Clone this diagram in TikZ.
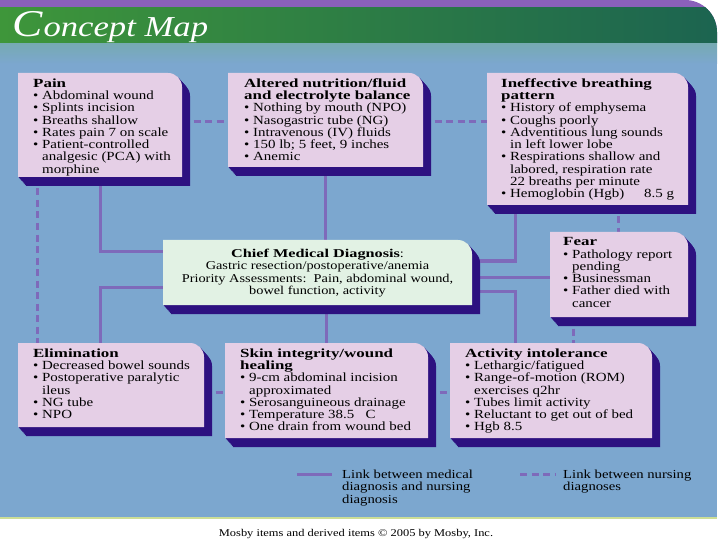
\documentclass[tikz,border=0pt]{standalone}
\usepackage{fontspec}
\setmainfont{Liberation Serif}[FakeStretch=1.2]
\newfontfamily\hdfont{Liberation Serif}[FakeStretch=1.36]
\newfontfamily\ttlfont{Liberation Serif}[FakeStretch=1.2]
\usetikzlibrary{calc}
\pgfdeclarelayer{back}
\pgfdeclarelayer{links}
\pgfsetlayers{back,links,main}
\definecolor{bgblue}{RGB}{124,167,207}
\definecolor{boxpink}{RGB}{229,207,230}
\definecolor{shadowc}{RGB}{45,17,128}
\definecolor{chiefc}{RGB}{226,242,228}
\definecolor{linkc}{RGB}{126,106,186}
\definecolor{barpurple}{RGB}{138,96,186}
\definecolor{gA}{RGB}{62,150,58}
\definecolor{gB}{RGB}{80,166,64}
\definecolor{gC}{RGB}{28,100,80}
\definecolor{tealband}{RGB}{118,170,178}
\definecolor{edgegreen}{RGB}{205,222,150}
\newcommand\bl{\textbullet\ }
\newcommand\ct{\phantom{\textbullet\ }}
\newcommand\hd[1]{{\hdfont\bfseries #1}}
\newcommand\cmbox[6]{%
  \foreach \k in {1,...,10}{%
    \fill[shadowc, shift={(0.8*\k,0.9*\k)}] (#2,#5) -- (#2,#3) -- ({#4-14},#3) arc[start angle=270,end angle=360,radius=14] -- (#4,#5) -- cycle;}%
  \fill[#6] (#2,#5) -- (#2,#3) -- ({#4-14},#3) arc[start angle=270,end angle=360,radius=14] -- (#4,#5) -- cycle;
  \node[inner sep=0, outer sep=0, minimum width={(#4-#2)*1bp}, minimum height={(#5-#3)*1bp}, anchor=north west] (#1) at (#2,#3) {};%
}
\begin{document}
\begin{tikzpicture}[x=1bp,y=-1bp,
  boxtext/.style={anchor=north west, align=left, inner sep=0, font=\fontsize{12.5}{12.3}\selectfont},
  chieftext/.style={anchor=north, align=center, inner sep=0, font=\fontsize{12}{12.4}\selectfont},
  legtext/.style={anchor=north west, align=left, inner sep=0, font=\fontsize{12.3}{12.6}\selectfont},
  slink/.style={line width=3bp, draw=linkc},
  dlink/.style={slink, dash pattern=on 7bp off 4.5bp}]
\useasboundingbox (0,0) rectangle (720,540);
\begin{pgfonlayer}{back}
\fill[white] (0,0) rectangle (720,540);
\fill[bgblue] (0,43) rectangle (717,517);
\shade[top color=tealband, bottom color=bgblue] (0,43) rectangle (717,64);
\draw[edgegreen, line width=2bp] (0,518) -- (717,518);
\fill[barpurple] (0,0) -- (685,0) arc[start angle=270,end angle=360,radius=32] -- (717,43) -- (0,43) -- cycle;
\begin{scope}
\clip (0,0) -- (685,0) arc[start angle=270,end angle=360,radius=32] -- (717,43) -- (0,43) -- cycle;
\shade[left color=gA, middle color=gB, right color=gC] (0,8) rectangle (717,43);
\end{scope}
\end{pgfonlayer}

% title
\node[anchor=base west, inner sep=0, text=white] (ttl) at (12,37) {\ttlfont\itshape\fontsize{38}{38}\selectfont C\kern1bp\fontsize{29}{29}\selectfont oncept Map};

% boxes
\cmbox{pain}{18}{73}{182}{177}{boxpink}
\cmbox{altered}{228}{73}{423}{167}{boxpink}
\cmbox{ineff}{487}{73}{688}{205}{boxpink}
\cmbox{chief}{163}{240}{472}{305}{chiefc}
\cmbox{fear}{550}{232}{688}{317}{boxpink}
\cmbox{elim}{18}{343}{204}{427}{boxpink}
\cmbox{skin}{225}{343}{428}{438}{boxpink}
\cmbox{activity}{450}{343}{652}{438}{boxpink}

% connectors
\begin{pgfonlayer}{links}
\draw[slink] (pain.south) |- ($(chief.west)+(0,-20.5)$);
\draw[slink] ($(chief.west)+(0,14.5)$) -| (pain.south |- elim.north);
\draw[slink] (altered.south) -- (altered.south |- chief.north);
\draw[slink] (skin.north |- chief.south) -- (skin.north);
\draw[slink] ($(ineff.south west)+(28,0)$) |- ($(chief.east)+(0,-11.5)$);
\draw[slink] ($(chief.east)+(0,4.5)$) -- ($(fear.west)+(0,2.5)$);
\draw[slink] ($(chief.east)+(0,18.5)$) -| ($(activity.north west)+(65,0)$);
\draw[dlink] ($(pain.north east)+(0,49)$) -- ($(altered.north west)+(0,49)$);
\draw[dlink] ($(altered.north east)+(0,49)$) -- ($(ineff.north west)+(0,49)$);
\draw[dlink] ($(ineff.south west)+(131,0)$) -- ($(fear.north west)+(68,0)$);
\draw[dlink] ($(fear.south west)+(23,0)$) -- ($(activity.north west)+(123,0)$);
\draw[dlink] ($(pain.south west)+(19,0)$) -- ($(elim.north west)+(19,0)$);
\draw[dlink] ($(elim.north east)+(0,49)$) -- ($(skin.north west)+(0,49)$);
\draw[dlink] ($(skin.north east)+(0,49)$) -- ($(activity.north west)+(0,49)$);
\end{pgfonlayer}

% texts
\node[boxtext] (painT) at (33,78.5) {\hd{Pain}\\\bl Abdominal wound\\\bl Splints incision\\\bl Breaths shallow\\\bl Rates pain 7 on scale\\\bl Patient-controlled\\\ct analgesic (PCA) with\\\ct morphine};
\node[boxtext] (alteredT) at (244,78.5) {\hd{Altered nutrition/fluid}\\\hd{and electrolyte balance}\\\bl Nothing by mouth (NPO)\\\bl Nasogastric tube (NG)\\\bl Intravenous (IV) fluids\\\bl 150 lb; 5 feet, 9 inches\\\bl Anemic};
\node[boxtext] (ineffT) at (501,78.5) {\hd{Ineffective breathing}\\\hd{pattern}\\\bl History of emphysema\\\bl Coughs poorly\\\bl Adventitious lung sounds\\\ct in left lower lobe\\\bl Respirations shallow and\\\ct labored, respiration rate\\\ct 22 breaths per minute\\\bl Hemoglobin (Hgb)\hspace{1.6em}8.5 g};
\node[chieftext] (chiefT) at (317.5,249) {\hd{Chief Medical Diagnosis}:\\Gastric resection/postoperative/anemia\\Priority Assessments:\ \ Pain, abdominal wound,\\bowel function, activity};
\node[boxtext] (fearT) at (563,237.5) {\hd{Fear}\\\bl Pathology report\\\ct pending\\\bl Businessman\\\bl Father died with\\\ct cancer};
\node[boxtext] (elimT) at (33,348.5) {\hd{Elimination}\\\bl Decreased bowel sounds\\\bl Postoperative paralytic\\\ct ileus\\\bl NG tube\\\bl NPO};
\node[boxtext] (skinT) at (240,348.5) {\hd{Skin integrity/wound}\\\hd{healing}\\\bl 9-cm abdominal incision\\\ct approximated\\\bl Serosanguineous drainage\\\bl Temperature 38.5\ \ \ C\\\bl One drain from wound bed};
\node[boxtext] (activityT) at (465,348.5) {\hd{Activity intolerance}\\\bl Lethargic/fatigued\\\bl Range-of-motion (ROM)\\\ct exercises q2hr\\\bl Tubes limit activity\\\bl Reluctant to get out of bed\\\bl Hgb 8.5};

% legend
\coordinate (ls1) at (297,474);
\coordinate (ls2) at (332,474);
\coordinate (ld1) at (520,474);
\coordinate (ld2) at (555,474);
\draw[slink] (ls1) -- (ls2);
\draw[dlink] (ld1) -- (ld2);
\node[legtext] (legS) at (342,469.5) {Link between medical\\diagnosis and nursing\\diagnosis};
\node[legtext] (legD) at (563,469.5) {Link between nursing\\diagnoses};

\node[anchor=base, inner sep=0, font=\fontsize{10.4}{12}\selectfont] (copy) at (356,536) {Mosby items and derived items \textcopyright\ 2005 by Mosby, Inc.};
\end{tikzpicture}
\end{document}
